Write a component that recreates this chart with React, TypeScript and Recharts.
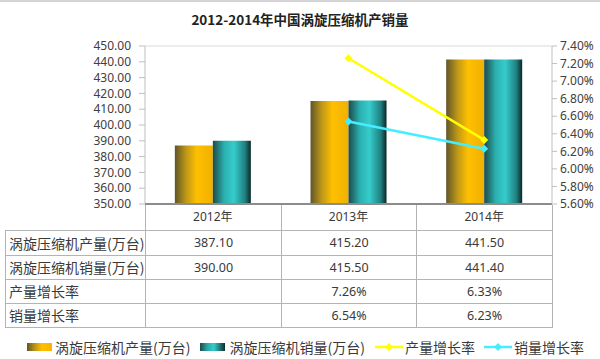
import React from 'react';
import { ComposedChart, Bar, Line, XAxis, YAxis, CartesianGrid } from 'recharts';

const years = ['2012年', '2013年', '2014年'];
const outputVals = [387.1, 415.2, 441.5];
const salesVals = [390.0, 415.5, 441.4];
const outputGrowth = [null, 7.26, 6.33];
const salesGrowth = [null, 6.54, 6.23];
const leftTicks = [350, 360, 370, 380, 390, 400, 410, 420, 430, 440, 450];
const rightTicks = [5.6, 5.8, 6.0, 6.2, 6.4, 6.6, 6.8, 7.0, 7.2, 7.4];

const rowLabels = ['涡旋压缩机产量(万台)', '涡旋压缩机销量(万台)', '产量增长率', '销量增长率'];
const tableRows = [
  outputVals.map((v) => v.toFixed(2)),
  salesVals.map((v) => v.toFixed(2)),
  outputGrowth.map((v) => (v == null ? '' : v.toFixed(2) + '%')),
  salesGrowth.map((v) => (v == null ? '' : v.toFixed(2) + '%')),
];

const data = years.map((year, i) => ({
  year,
  output: outputVals[i],
  sales: salesVals[i],
  outputGrowth: outputGrowth[i],
  salesGrowth: salesGrowth[i],
}));

const font = '"Noto Sans", "Noto Sans CJK SC", sans-serif';
const border = '1px solid #b4b4b4';

const Diamond = (color: string) => (props: any) => {
  const { cx, cy } = props;
  if (cx == null || cy == null || props.value == null) return <g />;
  return (
    <polygon
      points={`${cx},${cy - 4} ${cx + 4},${cy} ${cx},${cy + 4} ${cx - 4},${cy}`}
      fill={color}
    />
  );
};

const orangeGrad = 'linear-gradient(90deg, #5f5528 0%, #b8921a 30%, #ffc000 60%, #f5b400 100%)';
const tealGrad = 'linear-gradient(90deg, #1c4a4a 0%, #2aa8a8 30%, #33cccc 55%, #0f2e2e 100%)';

export default function App() {
  return (
    <div
      style={{
        position: 'absolute',
        left: 0,
        top: 0,
        width: 600,
        height: 359,
        background: '#fff',
        fontFamily: font,
        color: '#3a3a3a',
        borderTop: '2px solid #d4d4d4',
        boxSizing: 'border-box',
      }}
    >
      <div
        style={{
          position: 'absolute',
          top: 7,
          left: 0,
          width: 600,
          textAlign: 'center',
          fontSize: 13.5,
          fontWeight: 'bold',
          fontFamily: '"Noto Sans CJK SC", sans-serif',
          color: '#222',
        }}
      >
        2012-2014年中国涡旋压缩机产销量
      </div>

      <div style={{ position: 'absolute', left: 0, top: -2 }}>
        <ComposedChart
          width={600}
          height={230}
          data={data}
          margin={{ top: 46, right: 0, left: 0, bottom: 0 }}
          barCategoryGap="22%"
          barGap={0}
        >
          <defs>
            <linearGradient id="gOrange" x1="0" y1="0" x2="1" y2="0">
              <stop offset="0%" stopColor="#5f5528" />
              <stop offset="30%" stopColor="#c09818" />
              <stop offset="58%" stopColor="#ffc000" />
              <stop offset="100%" stopColor="#f0b000" />
            </linearGradient>
            <linearGradient id="gTeal" x1="0" y1="0" x2="1" y2="0">
              <stop offset="0%" stopColor="#1c4a4a" />
              <stop offset="30%" stopColor="#2bb0b0" />
              <stop offset="55%" stopColor="#36cccc" />
              <stop offset="85%" stopColor="#1f7f7f" />
              <stop offset="100%" stopColor="#0c2626" />
            </linearGradient>
          </defs>
          <CartesianGrid vertical={false} stroke="#d9d9d9" />
          <XAxis
            dataKey="year"
            height={26}
            tickLine={false}
            axisLine={{ stroke: '#8c8c8c', strokeWidth: 2 }}
            tick={{ fill: '#3a3a3a', fontSize: 12, fontFamily: font }}
            interval={0}
          />
          <YAxis
            yAxisId="left"
            width={145}
            domain={[350, 450]}
            ticks={leftTicks}
            tickFormatter={(v: number) => v.toFixed(2)}
            tickSize={6}
            tickMargin={8}
            axisLine={{ stroke: '#bfbfbf' }}
            tickLine={{ stroke: '#bfbfbf' }}
            tick={{ fill: '#404040', fontSize: 12, fontFamily: font }}
            interval={0}
          />
          <YAxis
            yAxisId="right"
            orientation="right"
            width={48}
            domain={[5.6, 7.4]}
            ticks={rightTicks}
            tickFormatter={(v: number) => v.toFixed(2) + '%'}
            tickSize={5}
            tickMargin={3}
            axisLine={{ stroke: '#bfbfbf' }}
            tickLine={{ stroke: '#bfbfbf' }}
            tick={{ fill: '#404040', fontSize: 12, fontFamily: font }}
            interval={0}
          />
          <Bar yAxisId="left" dataKey="output" fill="url(#gOrange)" isAnimationActive={false} />
          <Bar yAxisId="left" dataKey="sales" fill="url(#gTeal)" isAnimationActive={false} />
          <Line
            yAxisId="right"
            dataKey="outputGrowth"
            stroke="#ffff00"
            strokeWidth={2.5}
            dot={Diamond('#ffff00')}
            activeDot={false}
            isAnimationActive={false}
          />
          <Line
            yAxisId="right"
            dataKey="salesGrowth"
            stroke="#44eeff"
            strokeWidth={2.5}
            dot={Diamond('#44eeff')}
            activeDot={false}
            isAnimationActive={false}
          />
        </ComposedChart>
      </div>

      <table
        style={{
          position: 'absolute',
          left: 5,
          top: 203,
          borderCollapse: 'collapse',
          tableLayout: 'fixed',
          width: 548,
        }}
      >
        <colgroup>
          <col style={{ width: 140 }} />
          <col style={{ width: 136 }} />
          <col style={{ width: 135 }} />
          <col style={{ width: 136 }} />
        </colgroup>
        <tbody>
          <tr style={{ height: 25 }}>
            <td style={{ borderBottom: border, padding: 0 }} />
            {years.map((y) => (
              <td key={y} style={{ borderLeft: border, borderRight: border, borderBottom: border, padding: 0 }} />
            ))}
          </tr>
          {rowLabels.map((label, r) => (
            <tr key={label} style={{ height: r === 0 ? 25 : 24 }}>
              <td
                style={{
                  border,
                  padding: '0 0 0 3px',
                  fontSize: 14,
                  fontFamily: '"Noto Sans CJK SC", sans-serif',
                  whiteSpace: 'nowrap',
                }}
              >
                {label}
              </td>
              {tableRows[r].map((v, c) => (
                <td key={c} style={{ border, padding: 0, textAlign: 'center', fontSize: 12.5 }}>
                  {v}
                </td>
              ))}
            </tr>
          ))}
        </tbody>
      </table>

      <div
        style={{
          position: 'absolute',
          top: 336,
          left: 27,
          display: 'flex',
          alignItems: 'center',
          fontSize: 14,
          fontFamily: '"Noto Sans CJK SC", sans-serif',
          whiteSpace: 'nowrap',
          lineHeight: '18px',
        }}
      >
        <span style={{ width: 25, height: 8, background: orangeGrad, marginRight: 3 }} />
        <span style={{ marginRight: 10 }}>{rowLabels[0]}</span>
        <span style={{ width: 25, height: 8, background: tealGrad, marginRight: 4 }} />
        <span style={{ marginRight: 10 }}>{rowLabels[1]}</span>
        <svg width={28} height={10} style={{ marginRight: 2 }}>
          <line x1={0} y1={5} x2={28} y2={5} stroke="#ffff00" strokeWidth={2.5} />
          <polygon points="14,1 18,5 14,9 10,5" fill="#ffff00" />
        </svg>
        <span style={{ marginRight: 9 }}>{rowLabels[2]}</span>
        <svg width={28} height={10} style={{ marginRight: 2 }}>
          <line x1={0} y1={5} x2={28} y2={5} stroke="#44eeff" strokeWidth={2.5} />
          <polygon points="14,1 18,5 14,9 10,5" fill="#44eeff" />
        </svg>
        <span>{rowLabels[3]}</span>
      </div>
    </div>
  );
}
